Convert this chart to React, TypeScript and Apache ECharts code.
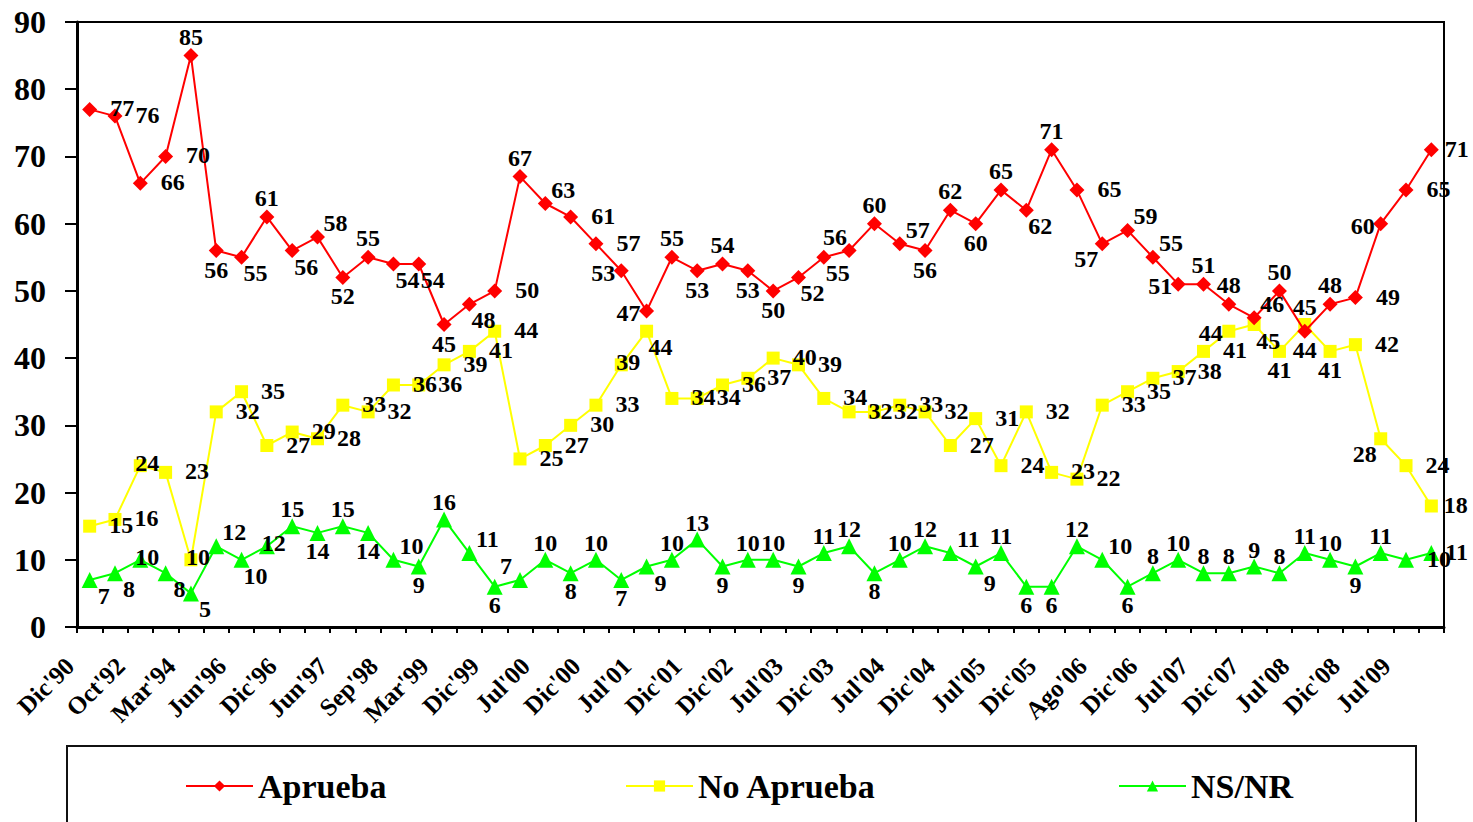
import React, { useEffect, useRef } from 'react';
import * as echarts from 'echarts';

const categories: string[] = [
  "Dic'90", '', "Oct'92", '', "Mar'94", '', "Jun'96", '', "Dic'96", '',
  "Jun'97", '', "Sep'98", '', "Mar'99", '', "Dic'99", '', "Jul'00", '',
  "Dic'00", '', "Jul'01", '', "Dic'01", '', "Dic'02", '', "Jul'03", '',
  "Dic'03", '', "Jul'04", '', "Dic'04", '', "Jul'05", '', "Dic'05", '',
  "Ago'06", '', "Dic'06", '', "Jul'07", '', "Dic'07", '', "Jul'08", '',
  "Dic'08", '', "Jul'09", '',
];

const aprueba: number[] = [
  77, 76, 66, 70, 85, 56, 55, 61, 56, 58,
  52, 55, 54, 54, 45, 48, 50, 67, 63, 61,
  57, 53, 47, 55, 53, 54, 53, 50, 52, 55,
  56, 60, 57, 56, 62, 60, 65, 62, 71, 65,
  57, 59, 55, 51, 51, 48, 46, 50, 44, 48,
  49, 60, 65, 71,
];

const noAprueba: number[] = [
  15, 16, 24, 23, 10, 32, 35, 27, 29, 28,
  33, 32, 36, 36, 39, 41, 44, 25, 27, 30,
  33, 39, 44, 34, 34, 36, 37, 40, 39, 34,
  32, 32, 33, 32, 27, 31, 24, 32, 23, 22,
  33, 35, 37, 38, 41, 44, 45, 41, 45, 41,
  42, 28, 24, 18,
];

const nsnr: number[] = [
  7, 8, 10, 8, 5, 12, 10, 12, 15, 14,
  15, 14, 10, 9, 16, 11, 6, 7, 10, 8,
  10, 7, 9, 10, 13, 9, 10, 10, 9, 11,
  12, 8, 10, 12, 11, 9, 11, 6, 6, 12,
  10, 6, 8, 10, 8, 8, 9, 8, 11, 10,
  9, 11, 10, 11,
];

const seriesNames = ['Aprueba', 'No Aprueba', 'NS/NR'];
const yTicks = { min: 0, max: 90, interval: 10 };

// Data-label placement (style only), one code per point
const apruebaLabelPlace = [
  'r', 'r', 'r', 'r', 't', 'b', 'br', 't', 'br', 'tr',
  'b', 't', 'br', 'br', 'b', 'br', 'r', 't', 'tr', 'r',
  'r', 'l', 'l', 't', 'b', 't', 'b', 'b', 'br', 'br',
  'tl', 't', 'tr', 'b', 't', 'b', 't', 'br', 't', 'r',
  'bl', 'tr', 'tr', 'l', 't', 't', 'tr', 't', 'b', 't',
  'r', 'l', 'r', 'rn',
];
const noApruebaLabelPlace = [
  'r', 'r', 'c', 'r', 'c', 'r', 'r', 'r', 'r', 'r',
  'r', 'r', 'r', 'r', 'r', 'r', 'r', 'r', 'r', 'r',
  'r', 'c', 'br', 'r', 'r', 'r', 'r', 'r', 'r', 'r',
  'r', 'r', 'r', 'r', 'r', 'r', 'r', 'r', 'r', 'r',
  'r', 'r', 'r', 'r', 'r', 'l', 'br', 'b', 't', 'b',
  'r', 'bl', 'r', 'rn',
];
const nsnrLabelPlace = [
  'br', 'br', 'c', 'br', 'br', 'tr', 'br', 'c', 't', 'b',
  't', 'b', 'tr', 'b', 't', 'tr', 'b', 'tl', 't', 'b',
  't', 'b', 'br', 't', 't', 'b', 't', 't', 'b', 't',
  't', 'b', 't', 't', 'tr', 'br', 't', 'b', 'b', 't',
  'tr', 'b', 't', 't', 't', 't', 't', 't', 't', 't',
  'b', 't', 'r', 'rn',
];

const FONT = 'Liberation Serif';
const legendLefts = [185, 625, 1118];

const placeOffsets: Record<string, [number, number]> = {
  t: [0, -17],
  b: [0, 18],
  l: [-18, 2],
  c: [7, -3],
  tr: [18, -14],
  br: [14, 16],
  tl: [-14, -14],
  bl: [-16, 15],
};

function labelFor(code: string, tBoost: number) {
  if (code === 'r') return { position: 'right', distance: 13, offset: [0, -1] };
  if (code === 'rn') return { position: 'right', distance: 6, offset: [0, -1] };
  const off = placeOffsets[code];
  const dy = code === 't' ? off[1] - tBoost : code === 'b' ? off[1] + tBoost / 2 : off[1];
  return { position: 'inside', offset: [off[0], dy] };
}

function buildData(values: number[], places: string[], tBoost: number) {
  return values.map((v, i) => ({ value: v, label: labelFor(places[i], tBoost) }));
}

export default function App() {
  const ref = useRef<HTMLDivElement>(null);
  useEffect(() => {
    document.body.style.margin = '0';
    const chart = echarts.init(ref.current!, null, { renderer: 'svg' });
    const labelStyle = {
      show: true,
      fontFamily: FONT,
      fontWeight: 'bold' as const,
      fontSize: 24,
      color: '#000',
    };
    const legendText = {
      fontFamily: FONT,
      fontWeight: 'bold' as const,
      fontSize: 34,
      color: '#000',
    };
    chart.setOption({
      animation: false,
      backgroundColor: '#fff',
      textStyle: { fontFamily: FONT },
      grid: {
        left: 77,
        right: 29,
        top: 22,
        bottom: 195,
        show: true,
        borderColor: '#000',
        borderWidth: 2,
        containLabel: false,
      },
      legend: seriesNames.map((name, i) => ({
        data: [name],
        left: legendLefts[i],
        top: 769,
        padding: 0,
        itemWidth: 67,
        itemHeight: 14,
        itemGap: 10,
        textStyle: legendText,
      })),
      graphic: [
        {
          type: 'rect',
          shape: { x: 67, y: 746, width: 1349, height: 140 },
          style: { fill: 'none', stroke: '#111', lineWidth: 2 },
          silent: true,
        },
      ],
      xAxis: {
        type: 'category',
        data: categories,
        boundaryGap: true,
        axisLine: { lineStyle: { color: '#000', width: 3 } },
        axisTick: { show: true, interval: 0, length: 6, lineStyle: { color: '#000', width: 2 } },
        axisLabel: {
          interval: 1,
          rotate: 45,
          margin: 15,
          padding: [0, 28, 0, 0],
          fontFamily: FONT,
          fontWeight: 'bold',
          fontSize: 25,
          color: '#000',
        },
        splitLine: { show: false },
      },
      yAxis: {
        type: 'value',
        min: yTicks.min,
        max: yTicks.max,
        interval: yTicks.interval,
        axisLine: { show: true, lineStyle: { color: '#000', width: 3 } },
        axisTick: { show: true, length: 12, lineStyle: { color: '#000', width: 2 } },
        axisLabel: {
          margin: 31,
          fontFamily: FONT,
          fontWeight: 'bold',
          fontSize: 32,
          color: '#000',
        },
        splitLine: { show: false },
      },
      series: [
        {
          name: seriesNames[0],
          type: 'line',
          data: buildData(aprueba, apruebaLabelPlace, 2),
          symbol: 'diamond',
          symbolSize: 15,
          itemStyle: { color: '#ff0000' },
          lineStyle: { color: '#ff0000', width: 2 },
          label: labelStyle,
          z: 3,
        },
        {
          name: seriesNames[1],
          type: 'line',
          data: buildData(noAprueba, noApruebaLabelPlace, 1),
          symbol: 'rect',
          symbolSize: 13,
          itemStyle: { color: '#ffff00' },
          lineStyle: { color: '#ffff00', width: 2 },
          label: labelStyle,
          z: 2,
        },
        {
          name: seriesNames[2],
          type: 'line',
          data: buildData(nsnr, nsnrLabelPlace, 0),
          symbol: 'triangle',
          symbolSize: 16,
          itemStyle: { color: '#00ff00' },
          lineStyle: { color: '#00ff00', width: 2 },
          label: labelStyle,
          z: 2,
        },
      ],
    });
    return () => chart.dispose();
  }, []);
  return <div ref={ref} style={{ width: 1473, height: 822 }} />;
}
